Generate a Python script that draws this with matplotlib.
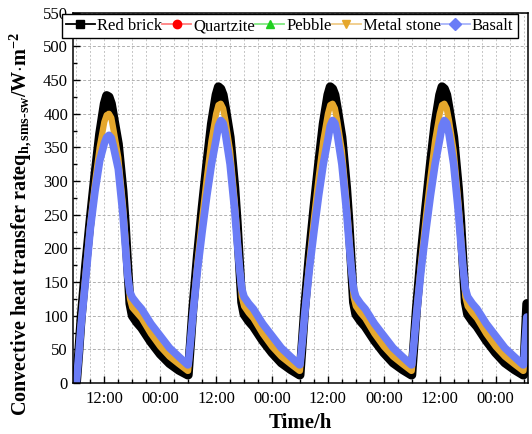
import numpy as np
import matplotlib
matplotlib.use('Agg')
import matplotlib.pyplot as plt
from matplotlib.lines import Line2D
from matplotlib.ticker import MultipleLocator, FixedLocator

plt.rcParams['font.family'] = ['Liberation Serif', 'DejaVu Serif']
plt.rcParams['mathtext.fontset'] = 'custom'
plt.rcParams['mathtext.rm'] = 'Liberation Serif'
plt.rcParams['mathtext.bf'] = 'Liberation Serif:bold'
plt.rcParams['mathtext.it'] = 'Liberation Serif:italic'

# hour of day for one daily cycle (06:00 -> next 06:00)
day_hours = [6, 6.5, 7, 8, 9, 10, 11, 12, 12.5, 13, 13.5, 14, 15, 16, 16.5,
             17, 17.5, 18, 19, 20, 22, 24, 26, 28, 29.9]

# first day (start from zero) and following days (repeated cycle)
brick_day1 = [0, 45, 95, 175, 245, 310, 370, 415, 427, 425, 415, 395, 355, 285, 235,
              175, 118, 100, 90, 82, 61, 43, 29, 19, 12]
brick_day = [12, 60, 110, 190, 260, 325, 385, 428, 440, 437, 428, 408, 365, 290, 240,
             180, 120, 102, 92, 84, 63, 45, 30, 20, 12]
quartz_day1 = [0, 42, 90, 167, 240, 300, 352, 390, 399, 400, 394, 376, 336, 267, 222,
               172, 127, 114, 106, 98, 75, 56, 41, 29, 19]
quartz_day = [19, 60, 105, 181, 246, 306, 361, 401, 413, 414, 408, 390, 345, 271, 226,
              176, 130, 116, 107, 99, 76, 57, 42, 30, 20]
pebble_day1 = [0, 42, 90, 166, 238, 298, 349, 385, 394, 395, 389, 372, 333, 265, 221,
               171, 127, 114, 106, 98, 75, 56, 41, 29, 19]
pebble_day = [19, 60, 105, 180, 245, 304, 358, 396, 408, 410, 404, 387, 343, 270, 225,
              175, 129, 116, 106, 98, 75, 56, 41, 29, 19]
metal_day1 = [0, 42, 90, 165, 238, 298, 350, 388, 398, 400, 394, 375, 335, 265, 220,
              170, 125, 112, 104, 96, 73, 54, 39, 28, 18]
metal_day = [18, 60, 105, 180, 245, 305, 360, 400, 413, 415, 408, 390, 345, 270, 225,
             175, 128, 114, 104, 96, 73, 54, 39, 28, 18]
basalt_day1 = [0, 40, 85, 155, 230, 285, 330, 356, 365, 368, 364, 350, 318, 250, 205,
               160, 135, 127, 118, 110, 88, 70, 52, 39, 27]
basalt_day = [27, 62, 100, 168, 225, 278, 325, 362, 382, 390, 386, 370, 325, 255, 212,
              172, 140, 128, 118, 110, 88, 70, 52, 39, 27]

# start of the fifth day, cut by the axis
end_hours = [102.0, 102.35, 102.7]
brick_end = [12, 65, 118]
quartz_end = [19, 60, 100]
pebble_end = [19, 60, 100]
metal_end = [18, 58, 98]
basalt_end = [27, 62, 98]

n_days = 4
labels = ['Red brick', 'Quartzite', 'Pebble', 'Metal stone', 'Basalt']
colors = ['#000000', '#FF0000', '#1FD01F', '#E5A72C', '#6A7CF6']
light = ['#000000', '#FF8080', '#80E880', '#F0CC88', '#A8B4FA']
markers = ['s', 'o', '^', 'v', 'D']
widths = [6.5, 2.0, 2.0, 4.5, 5.5]

series = [(brick_day1, brick_day, brick_end),
          (quartz_day1, quartz_day, quartz_end),
          (pebble_day1, pebble_day, pebble_end),
          (metal_day1, metal_day, metal_end),
          (basalt_day1, basalt_day, basalt_end)]

fig = plt.figure(figsize=(5.32, 4.34), dpi=100)
ax = fig.add_axes([0.137, 0.1175, 0.855, 0.853])

for (d1, d, e), c, lw in zip(series, colors, widths):
    t = list(day_hours)
    y = list(d1)
    for k in range(1, n_days):
        t += [h + 24 * k for h in day_hours]
        y += d
    t += end_hours
    y += e
    ax.plot(t, y, color=c, lw=lw, solid_joinstyle='round', solid_capstyle='round')

ax.set_xlim(5.25, 102.9)
ax.set_ylim(0, 550)
ax.yaxis.set_major_locator(MultipleLocator(50))
ax.yaxis.set_minor_locator(MultipleLocator(25))
xt = [12, 24, 36, 48, 60, 72, 84, 96]
ax.xaxis.set_major_locator(FixedLocator(xt))
ax.set_xticklabels(['12:00', '00:00'] * 4)
ax.xaxis.set_minor_locator(MultipleLocator(3))

ax.tick_params(which='both', direction='in', labelsize=12, width=1)
ax.tick_params(which='major', length=5)
ax.tick_params(which='minor', length=3)
ax.tick_params(axis='x', pad=6)
for s in ax.spines.values():
    s.set_linewidth(1.1)

ax.grid(axis='y', which='major', linestyle=(0, (3, 2)), color='#b0b0b0', lw=0.7)
ax.grid(axis='x', which='both', linestyle=(0, (2, 2)), color='#c4c4c4', lw=0.7)
ax.set_axisbelow(True)

ax.set_xlabel('Time/h', fontsize=15, fontweight='bold', labelpad=4)
ax.set_ylabel(r'Convective heat transfer rateq$_{\mathbf{h,sms\text{-}sw}}$/W$\mathbf{\cdot}$m$^{\mathbf{-2}}$',
              fontsize=14.5, fontweight='bold')
ax.yaxis.set_label_coords(-0.085, 0.43)

handles = [Line2D([0], [0], color=lc, lw=1.3, marker=m, markersize=6,
                  markerfacecolor=c, markeredgecolor=c)
           for lc, c, m in zip(light, colors, markers)]
fig.legend(handles, labels, loc='upper left', bbox_to_anchor=(0.116, 0.968),
           ncol=5, fontsize=12, frameon=True, fancybox=False, edgecolor='black',
           framealpha=1, handlelength=1.75, handletextpad=0.12, columnspacing=0.0,
           borderpad=0.25, borderaxespad=0)

fig.savefig('out.png', dpi=100)
